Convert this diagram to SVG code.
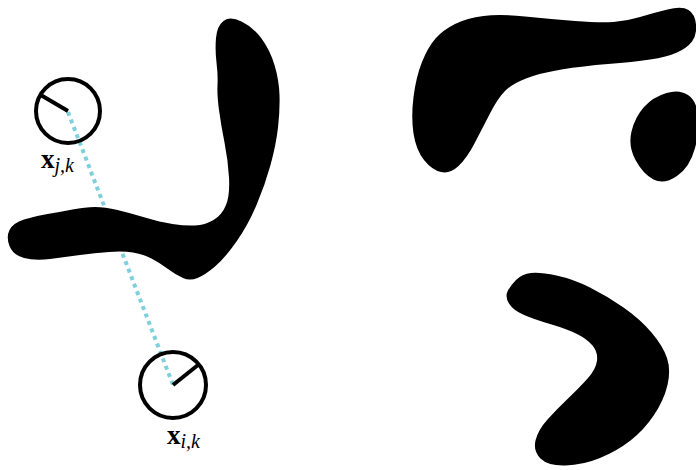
<svg xmlns="http://www.w3.org/2000/svg" width="696" height="470" viewBox="0 0 696 470">
<style>
.blob{fill:#000;stroke:none}
.ring{fill:none;stroke:#000;stroke-width:4}
.rad{stroke:#000;stroke-width:4;stroke-linecap:butt}
.link{stroke:#7fd0dc;stroke-width:4;stroke-dasharray:4 4;fill:none}
.lbl{font-family:"Liberation Serif","Times New Roman",serif;font-size:27px;fill:#000}
.sub{font-size:20px;font-style:italic}
</style>
<rect width="696" height="470" fill="#fff"/>
<g id="connectors">
<line class="link" x1="68" y1="112" x2="173" y2="385"/>
</g>
<g id="obstacles">
<path class="blob" d="M223.5,21 Q230,16 241.5,21.5 Q253,27 261.5,38.5 Q270,50 274.5,65 Q279,80 279.5,95 Q280,110 278,127.5 Q276,145 270.5,165 Q265,185 256.5,205 Q248,225 236.5,241.5 Q225,258 215,266.5 Q205,275 197.5,278 Q190,281 183,278 Q176,275 168,269 Q160,263 151.5,258.5 Q143,254 133,252.5 Q123,251 109,252 Q95,253 80,255 Q65,257 50,259 Q35,261 24,258 Q13,255 9.5,246 Q6,237 9.5,230 Q13,223 24,219.5 Q35,216 47.5,214 Q60,212 72.5,209.5 Q85,207 95,207 Q105,207 117.5,210 Q130,213 145,217.5 Q160,222 172.5,224 Q185,226 195,225.5 Q205,225 213.5,220 Q222,215 226,205 Q230,195 229,177.5 Q228,160 224.5,142.5 Q221,125 219,110 Q217,95 217.5,85 Q218,75 216.5,62.5 Q215,50 216,38 Q217,26 223.5,21 Z"/>
<path class="blob" d="M435.5,38.5 Q443,30 455,24 Q467,18 483.5,16 Q500,14 525,16.5 Q550,19 575,21 Q600,23 613.5,22 Q627,21 640,17 Q653,13 667.5,9.5 Q682,6 688.5,10 Q695,14 696,24.5 Q697,35 692,41.5 Q687,48 677,52.5 Q667,57 650,59.5 Q633,62 608,64 Q583,66 561.5,69.5 Q540,73 526,78.5 Q512,84 505,91 Q498,98 490.5,112.5 Q483,127 475,142.5 Q467,158 458.5,166 Q450,174 441,172 Q432,170 424,160 Q416,150 413.5,133.5 Q411,117 413.5,97 Q416,77 422,62 Q428,47 435.5,38.5 Z"/>
<path class="blob" d="M666.5,93 Q679,89 688,95 Q697,101 698,116 Q700,131 695,148 Q690,167 677,176 Q664,185 653.5,179.5 Q643,174 635.5,160 Q628,146 631.5,131.5 Q635,117 644,107 Q653,97 666.5,93 Z"/>
<path class="blob" d="M507.5,291.5 Q510,286 516,280 Q522,274 531,273 Q540,272 556.5,275.5 Q573,279 590,287.5 Q607,296 623.5,307.5 Q640,319 651.5,332.5 Q663,346 667,358 Q671,370 667.5,385 Q664,400 654,415 Q644,430 630.5,440.5 Q617,451 600,458 Q583,465 565.5,465.5 Q548,466 540.5,458.5 Q533,451 535.5,440.5 Q538,430 547.5,419.5 Q557,409 568.5,398 Q580,387 588,378 Q596,369 597,360.5 Q598,352 592.5,345.5 Q587,339 577,334 Q567,329 550,324 Q533,319 523,314.5 Q513,310 509,303.5 Q505,297 507.5,291.5 Z"/>
</g>
<g id="node-xj">
<circle class="ring" cx="68" cy="111" r="32"/>
<line class="rad" x1="68" y1="111" x2="39" y2="94"/>
<text class="lbl" x="41" y="168"><tspan font-weight="bold">x</tspan><tspan class="sub" dy="4">j,k</tspan></text>
</g>
<g id="node-xi">
<circle class="ring" cx="173" cy="385" r="33"/>
<line class="rad" x1="173" y1="385" x2="198" y2="365"/>
<text class="lbl" x="167" y="444"><tspan font-weight="bold">x</tspan><tspan class="sub" dy="4">i,k</tspan></text>
</g>
</svg>
